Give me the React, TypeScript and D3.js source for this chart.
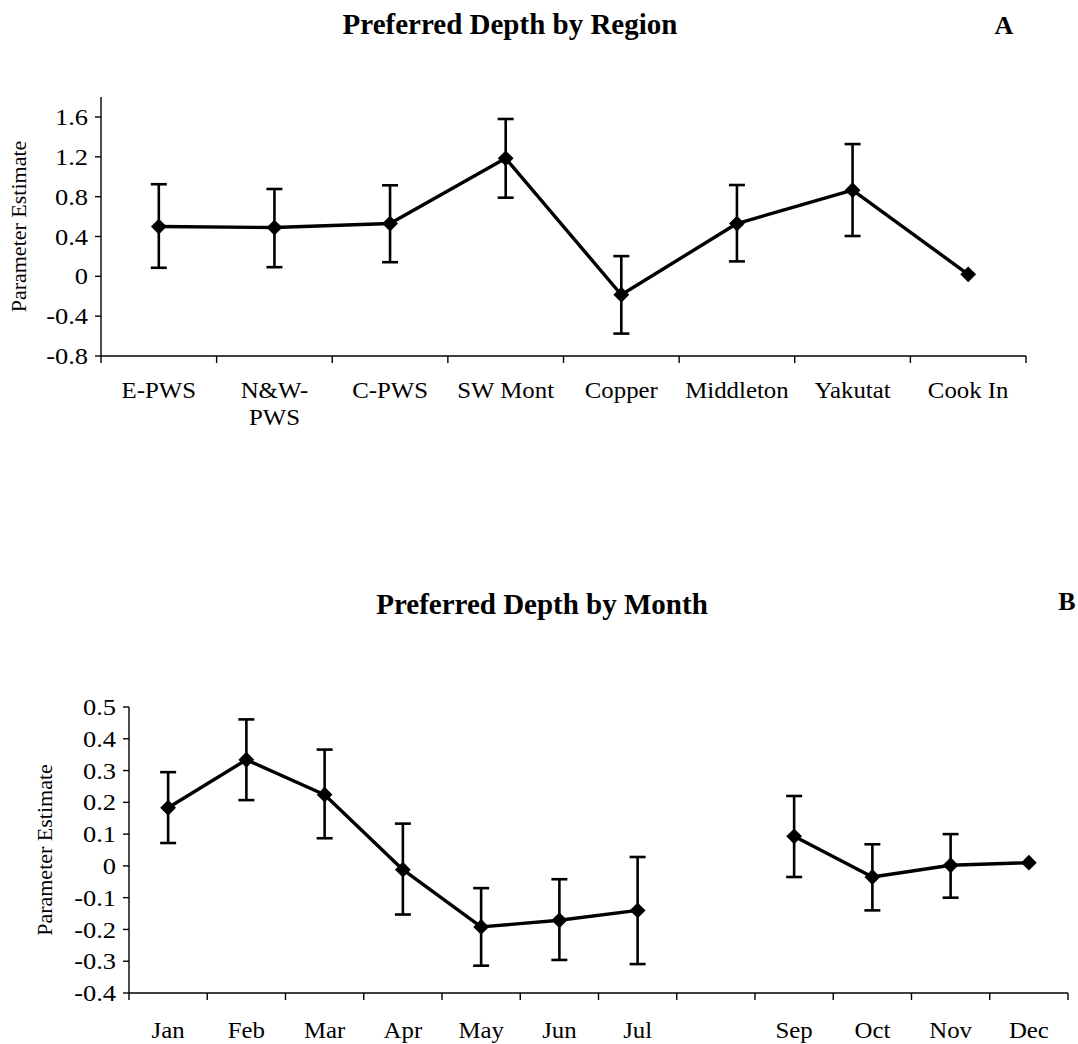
import React from "react";
import * as d3 from "d3";

// Panel A: preferred depth by region
const regions = ["E-PWS", "N&W-\nPWS", "C-PWS", "SW Mont", "Copper", "Middleton", "Yakutat", "Cook In"];
const regionEstimate = [0.5, 0.49, 0.53, 1.185, -0.185, 0.53, 0.865, 0.02];
const regionUpper: (number | null)[] = [0.925, 0.877, 0.914, 1.58, 0.203, 0.917, 1.328, null];
const regionLower: (number | null)[] = [0.086, 0.092, 0.142, 0.79, -0.575, 0.15, 0.405, null];
const regionTicks = [-0.8, -0.4, 0, 0.4, 0.8, 1.2, 1.6];

// Panel B: preferred depth by month (no August estimate)
const months = ["Jan", "Feb", "Mar", "Apr", "May", "Jun", "Jul", "", "Sep", "Oct", "Nov", "Dec"];
const monthEstimate: (number | null)[] = [0.183, 0.334, 0.224, -0.012, -0.192, -0.171, -0.14, null, 0.093, -0.035, 0.002, 0.01];
const monthUpper: (number | null)[] = [0.295, 0.461, 0.366, 0.133, -0.07, -0.042, 0.028, null, 0.22, 0.068, 0.1, null];
const monthLower: (number | null)[] = [0.072, 0.207, 0.087, -0.153, -0.314, -0.296, -0.309, null, -0.035, -0.14, -0.1, null];
const monthTicks = [-0.4, -0.3, -0.2, -0.1, 0, 0.1, 0.2, 0.3, 0.4, 0.5];

const FONT = "'Liberation Serif', 'Times New Roman', serif";

// plain hyphen for negative tick values
const locale = d3.formatLocale({ decimal: ".", thousands: ",", grouping: [3], currency: ["", ""], minus: "-" });
const fmt1 = locale.format(".1f");
const fmtTick = (v: number) => (v === 0 ? "0" : fmt1(v));

type PanelProps = {
  title: string;
  letter: string;
  titleX: number;
  titleY: number;
  letterX: number;
  letterY: number;
  cats: string[];
  est: (number | null)[];
  upper: (number | null)[];
  lower: (number | null)[];
  ticks: number[];
  yDomain: [number, number];
  yRange: [number, number];
  yAxisTop: number;
  xRange: [number, number];
  labelY: number;
  yTitleX: number;
};

function Panel(p: PanelProps) {
  const x = d3.scaleBand<number>().domain(p.cats.map((_, i) => i)).range(p.xRange).padding(0);
  const y = d3.scaleLinear().domain(p.yDomain).range(p.yRange);
  const cx = (i: number) => (x(i) as number) + x.bandwidth() / 2;
  const x0 = p.xRange[0];
  const yBottom = y(p.yDomain[0]);

  const line = d3
    .line<number | null>()
    .defined((d) => d !== null)
    .x((_, i) => cx(i))
    .y((d) => y(d as number));

  const diamond = d3.symbol().type(d3.symbolSquare).size(125)();
  const cap = 8;
  const boundaries = d3.range(p.cats.length + 1).map((i) =>
    i === p.cats.length ? p.xRange[1] : (x(i) as number)
  );

  return (
    <g>
      <text x={p.titleX} y={p.titleY} textAnchor="middle" fontFamily={FONT} fontWeight="bold" fontSize={29}>
        {p.title}
      </text>
      <text x={p.letterX} y={p.letterY} textAnchor="middle" fontFamily={FONT} fontWeight="bold" fontSize={26}>
        {p.letter}
      </text>

      {/* y axis */}
      <line x1={x0} x2={x0} y1={p.yAxisTop} y2={yBottom} stroke="#000" strokeWidth={1.4} />
      {p.ticks.map((t) => (
        <g key={t}>
          <line x1={x0 - 6} x2={x0} y1={y(t)} y2={y(t)} stroke="#000" strokeWidth={1.4} />
          <text
            transform={`translate(${x0 - 13},${y(t)}) scale(1.15,1)`}
            dy="0.35em"
            textAnchor="end"
            fontFamily={FONT}
            fontSize={23}
          >
            {fmtTick(t)}
          </text>
        </g>
      ))}
      <text
        transform={`translate(${p.yTitleX},${(p.yAxisTop + yBottom) / 2}) rotate(-90)`}
        textAnchor="middle"
        fontFamily={FONT}
        fontSize={22}
      >
        Parameter Estimate
      </text>

      {/* x axis */}
      <line x1={x0} x2={p.xRange[1]} y1={yBottom} y2={yBottom} stroke="#000" strokeWidth={1.4} />
      {boundaries.map((bx, i) => (
        <line key={i} x1={bx} x2={bx} y1={yBottom} y2={yBottom + 7} stroke="#000" strokeWidth={1.4} />
      ))}
      {p.cats.map((c, i) => (
        <g key={i} transform={`translate(${cx(i)},${p.labelY}) scale(1.08,1)`}>
          <text x={0} y={0} textAnchor="middle" fontFamily={FONT} fontSize={23}>
            {c.split("\n").map((ln, k) => (
              <tspan key={k} x={0} dy={k === 0 ? 0 : 27}>
                {ln}
              </tspan>
            ))}
          </text>
        </g>
      ))}

      {/* error bars */}
      {p.est.map((e, i) => {
        const u = p.upper[i];
        const l = p.lower[i];
        if (e === null || u === null || l === null) return null;
        return (
          <g key={i} stroke="#000" strokeWidth={2.6}>
            <line x1={cx(i)} x2={cx(i)} y1={y(u)} y2={y(l)} />
            <line x1={cx(i) - cap} x2={cx(i) + cap} y1={y(u)} y2={y(u)} />
            <line x1={cx(i) - cap} x2={cx(i) + cap} y1={y(l)} y2={y(l)} />
          </g>
        );
      })}

      <path d={line(p.est) || ""} fill="none" stroke="#000" strokeWidth={3.4} strokeLinejoin="round" />
      {p.est.map((e, i) =>
        e === null ? null : (
          <path key={i} d={diamond || ""} transform={`translate(${cx(i)},${y(e)}) rotate(45)`} fill="#000" />
        )
      )}
    </g>
  );
}

export default function App() {
  return (
    <svg
      width={1078}
      height={1044}
      style={{ position: "absolute", left: 0, top: 0, background: "#fff", display: "block" }}
    >
      <rect width={1078} height={1044} fill="#fff" />
      <Panel
        title="Preferred Depth by Region"
        letter="A"
        titleX={510}
        titleY={34}
        letterX={1004}
        letterY={34}
        cats={regions}
        est={regionEstimate}
        upper={regionUpper}
        lower={regionLower}
        ticks={regionTicks}
        yDomain={[-0.8, 1.6]}
        yRange={[356, 117]}
        yAxisTop={97}
        xRange={[101, 1026]}
        labelY={398}
        yTitleX={26}
      />
      <Panel
        title="Preferred Depth by Month"
        letter="B"
        titleX={542}
        titleY={614}
        letterX={1067}
        letterY={610}
        cats={months}
        est={monthEstimate}
        upper={monthUpper}
        lower={monthLower}
        ticks={monthTicks}
        yDomain={[-0.4, 0.5]}
        yRange={[993, 707]}
        yAxisTop={707}
        xRange={[129, 1068]}
        labelY={1038}
        yTitleX={52}
      />
    </svg>
  );
}
